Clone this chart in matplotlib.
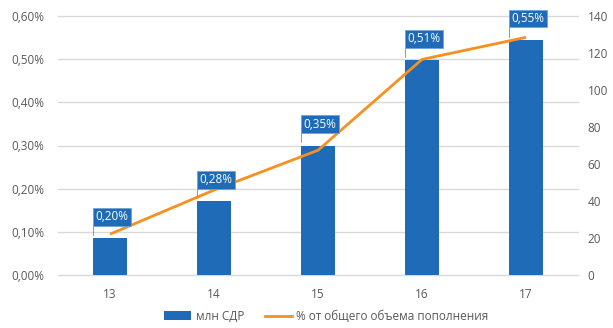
import matplotlib
matplotlib.use("Agg")
import matplotlib.pyplot as plt
import matplotlib.transforms as mtransforms
from matplotlib.patches import Polygon, Patch
from matplotlib.lines import Line2D
from matplotlib.ticker import FuncFormatter, MultipleLocator

plt.rcParams['font.family'] = ['Open Sans', 'DejaVu Sans']

categories = ['13', '14', '15', '16', '17']
sdr_mln = [20, 40, 70, 116, 127]                  # bars, right axis
share_pct = [0.095, 0.197, 0.289, 0.499, 0.550]   # line, left axis (%)
bar_labels = ['0,20%', '0,28%', '0,35%', '0,51%', '0,55%']
series_names = ['млн СДР', '% от общего объема пополнения']

bar_color = '#1F6BB7'
line_color = '#F7901E'
grid_color = '#D9D9D9'
text_color = '#595959'
fs = 8.5

fig = plt.figure(figsize=(6.13, 3.28), dpi=100)
W, H = 613, 328
ax = fig.add_axes([58 / W, (H - 275.3) / H, (578 - 58) / W, (275.3 - 15.7) / H])
ax2 = ax.twinx()

x = list(range(len(categories)))
bw = 0.32
ax.bar(x, sdr_mln, width=bw, color=bar_color, zorder=2)
ax.set_ylim(0, 140)
ax.set_xlim(-0.5, len(categories) - 0.5)
ax.yaxis.set_major_locator(MultipleLocator(20))
ax.yaxis.tick_right()
ax.set_xticks(x)
ax.set_xticklabels(categories)

ax2.plot(x, share_pct, color=line_color, lw=2.0, solid_capstyle='butt', zorder=3)
ax2.set_ylim(0, 0.6)
ax2.yaxis.set_major_locator(MultipleLocator(0.1))
ax2.yaxis.set_ticks_position('left')
ax2.yaxis.set_label_position('left')
ax2.yaxis.set_major_formatter(FuncFormatter(lambda v, p: f"{v:.2f}%".replace('.', ',')))

# gridlines at percent ticks, drawn behind bars
blend = mtransforms.blended_transform_factory(ax.transAxes, ax2.transData)
for v in [0.0, 0.1, 0.2, 0.3, 0.4, 0.5, 0.6]:
    ax.plot([0, 1], [v, v], transform=blend, color=grid_color, lw=1.0, zorder=1, clip_on=False)

for a in (ax, ax2):
    for s in a.spines.values():
        s.set_visible(False)
    a.tick_params(length=0, labelsize=fs, labelcolor=text_color)
ax.tick_params(axis='x', pad=9)
ax.tick_params(axis='y', pad=7)
ax2.tick_params(axis='y', pad=10)

# callout labels
bw_in, bh_in, bot_in, tip_in, ptr_in = 0.375, 0.175, 0.125, 0.03, 0.07
for i, (val, lab) in enumerate(zip(sdr_mln, bar_labels)):
    tr = fig.dpi_scale_trans + mtransforms.ScaledTranslation(i - bw / 2, val, ax.transData)
    verts = [(0, tip_in), (0, bot_in + bh_in), (bw_in, bot_in + bh_in), (bw_in, bot_in),
             (ptr_in, bot_in), (0, bot_in)]
    poly = Polygon(verts, closed=True, transform=tr, facecolor=bar_color,
                   edgecolor='#6FA3D8', lw=0.6, zorder=5, clip_on=False)
    ax2.add_artist(poly)
    ax2.text(bw_in / 2, bot_in + bh_in / 2, lab, transform=tr, ha='center', va='center',
             color='white', fontsize=fs, zorder=6, clip_on=False)

handles = [Patch(facecolor=bar_color, edgecolor='none'),
           Line2D([0], [0], color=line_color, lw=2.0)]
fig.legend(handles, series_names, loc='center', bbox_to_anchor=(326.5 / W, (H - 316.5) / H),
           ncol=2, frameon=False, fontsize=fs, labelcolor=text_color,
           handlelength=2.3, handleheight=0.8, handletextpad=0.35, columnspacing=1.8)

fig.savefig('out.png', dpi=100)
